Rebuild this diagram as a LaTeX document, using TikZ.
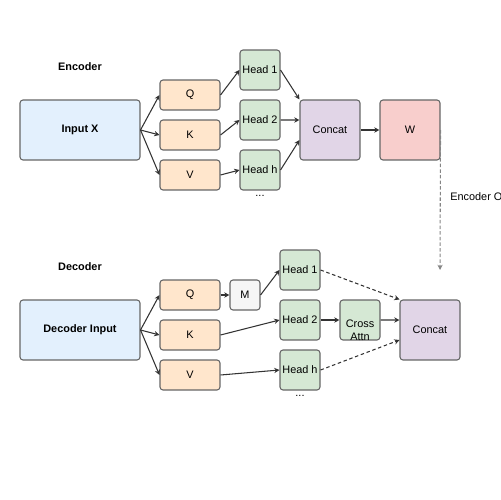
\documentclass[tikz,border=0pt]{standalone}
\usepackage{fontspec}
\setmainfont{Liberation Sans}
\usetikzlibrary{arrows.meta}
\definecolor{boxline}{HTML}{666666}
\definecolor{arrowline}{HTML}{333333}
\definecolor{inblue}{HTML}{E3F0FD}
\definecolor{qkvorange}{HTML}{FFE6CC}
\definecolor{headgreen}{HTML}{D5E8D4}
\definecolor{catpurple}{HTML}{E1D5E7}
\definecolor{wred}{HTML}{F8CECC}
\definecolor{maskgray}{HTML}{F5F5F5}
\tikzset{
  box/.style={draw=boxline, line width=0.6pt, rounded corners=1.7pt, inner sep=0pt,
    align=center, font=\fontsize{6.2}{7.6}\selectfont},
  inbox/.style={box, fill=inblue, minimum width=2.4cm, minimum height=1.2cm, font=\fontsize{6.2}{7.6}\selectfont\bfseries},
  qkvbox/.style={box, fill=qkvorange, minimum width=1.2cm, minimum height=0.6cm},
  headbox/.style={box, fill=headgreen, minimum width=0.8cm, minimum height=0.8cm},
  catbox/.style={box, fill=catpurple, minimum width=1.2cm, minimum height=1.2cm},
  wbox/.style={box, fill=wred, minimum width=1.2cm, minimum height=1.2cm},
  maskbox/.style={box, fill=maskgray, minimum width=0.6cm, minimum height=0.6cm},
  title/.style={font=\fontsize{6.2}{7.6}\selectfont\bfseries},
  plain/.style={font=\fontsize{6.2}{7.6}\selectfont},
  arr/.style={draw=arrowline, line width=0.6pt, -{Stealth[length=3pt,width=3pt]}},
  darr/.style={arr, dash pattern=on 2pt off 1.5pt},
  garr/.style={draw=boxline!80, line width=0.6pt, dash pattern=on 2pt off 1.2pt, -{Stealth[length=3pt,width=3pt]}}
}
\begin{document}
\begin{tikzpicture}[x=0.02cm, y=-0.02cm]
  \useasboundingbox (0,0) rectangle (500,500);
  % encoder
  \node[title] (enclabel) at (80,67) {Encoder};
  \node[inbox] (ein) at (80,130) {Input X};
  \node[qkvbox] (eq) at (190,95) {Q};
  \node[qkvbox] (ek) at (190,135) {K};
  \node[qkvbox] (ev) at (190,175) {V};
  \node[headbox] (eh1) at (260,70) {Head 1};
  \node[headbox] (eh2) at (260,120) {Head 2};
  \node[headbox] (ehh) at (260,170) {Head h};
  \node[plain] (edots) at (260,196) {...};
  \node[catbox] (ecat) at (330,130) {Concat};
  \node[wbox] (ew) at (410,130) {W};
  \coordinate (eout) at (440,270);
  \node[plain, anchor=west, inner sep=0pt] (eoutlabel) at (450,197) {Encoder O};
  % decoder
  \node[title] (declabel) at (80,267) {Decoder};
  \node[inbox] (din) at (80,330) {Decoder Input};
  \node[qkvbox] (dq) at (190,295) {Q};
  \node[qkvbox] (dk) at (190,335) {K};
  \node[qkvbox] (dv) at (190,375) {V};
  \node[maskbox] (dm) at (245,295) {M};
  \node[headbox] (dh1) at (300,270) {Head 1};
  \node[headbox] (dh2) at (300,320) {Head 2};
  \node[headbox] (dhh) at (300,370) {Head h};
  \node[plain] (ddots) at (300,396) {...};
  \node[headbox, label={[plain, align=center, yshift=-0.2cm]center:Cross\\Attn}] (dcross) at (360,320) {};
  \node[catbox] (dcat) at (430,330) {Concat};
  % encoder connectors
  \draw[arr] (ein.east) -- (eq.west);
  \draw[arr] (ein.east) -- (ek.west);
  \draw[arr] (ein.east) -- (ev.west);
  \draw[arr] (eq.east) -- (eh1.west);
  \draw[arr] (ek.east) -- (eh2.west);
  \draw[arr] (ev.east) -- (ehh.west);
  \draw[arr] (eh1.east) -- (ecat.north west);
  \draw[arr] (eh2.east) -- ([yshift=0.2cm]ecat.west);
  \draw[arr] (ehh.east) -- ([yshift=-0.2cm]ecat.west);
  \draw[arr] (ecat.east) -- (ew.west);
  \draw[garr] (ew.east) -- (eout);
  % decoder connectors
  \draw[arr] (din.east) -- (dq.west);
  \draw[arr] (din.east) -- (dk.west);
  \draw[arr] (din.east) -- (dv.west);
  \draw[arr] (dq.east) -- (dm.west);
  \draw[arr] (dm.east) -- (dh1.west);
  \draw[arr] (dk.east) -- (dh2.west);
  \draw[arr] (dv.east) -- (dhh.west);
  \draw[arr] (dh2.east) -- (dcross.west);
  \draw[darr] (dh1.east) -- (dcat.north west);
  \draw[arr] (dcross.east) -- ([yshift=0.2cm]dcat.west);
  \draw[darr] (dhh.east) -- ([yshift=-0.2cm]dcat.west);
\end{tikzpicture}
\end{document}
